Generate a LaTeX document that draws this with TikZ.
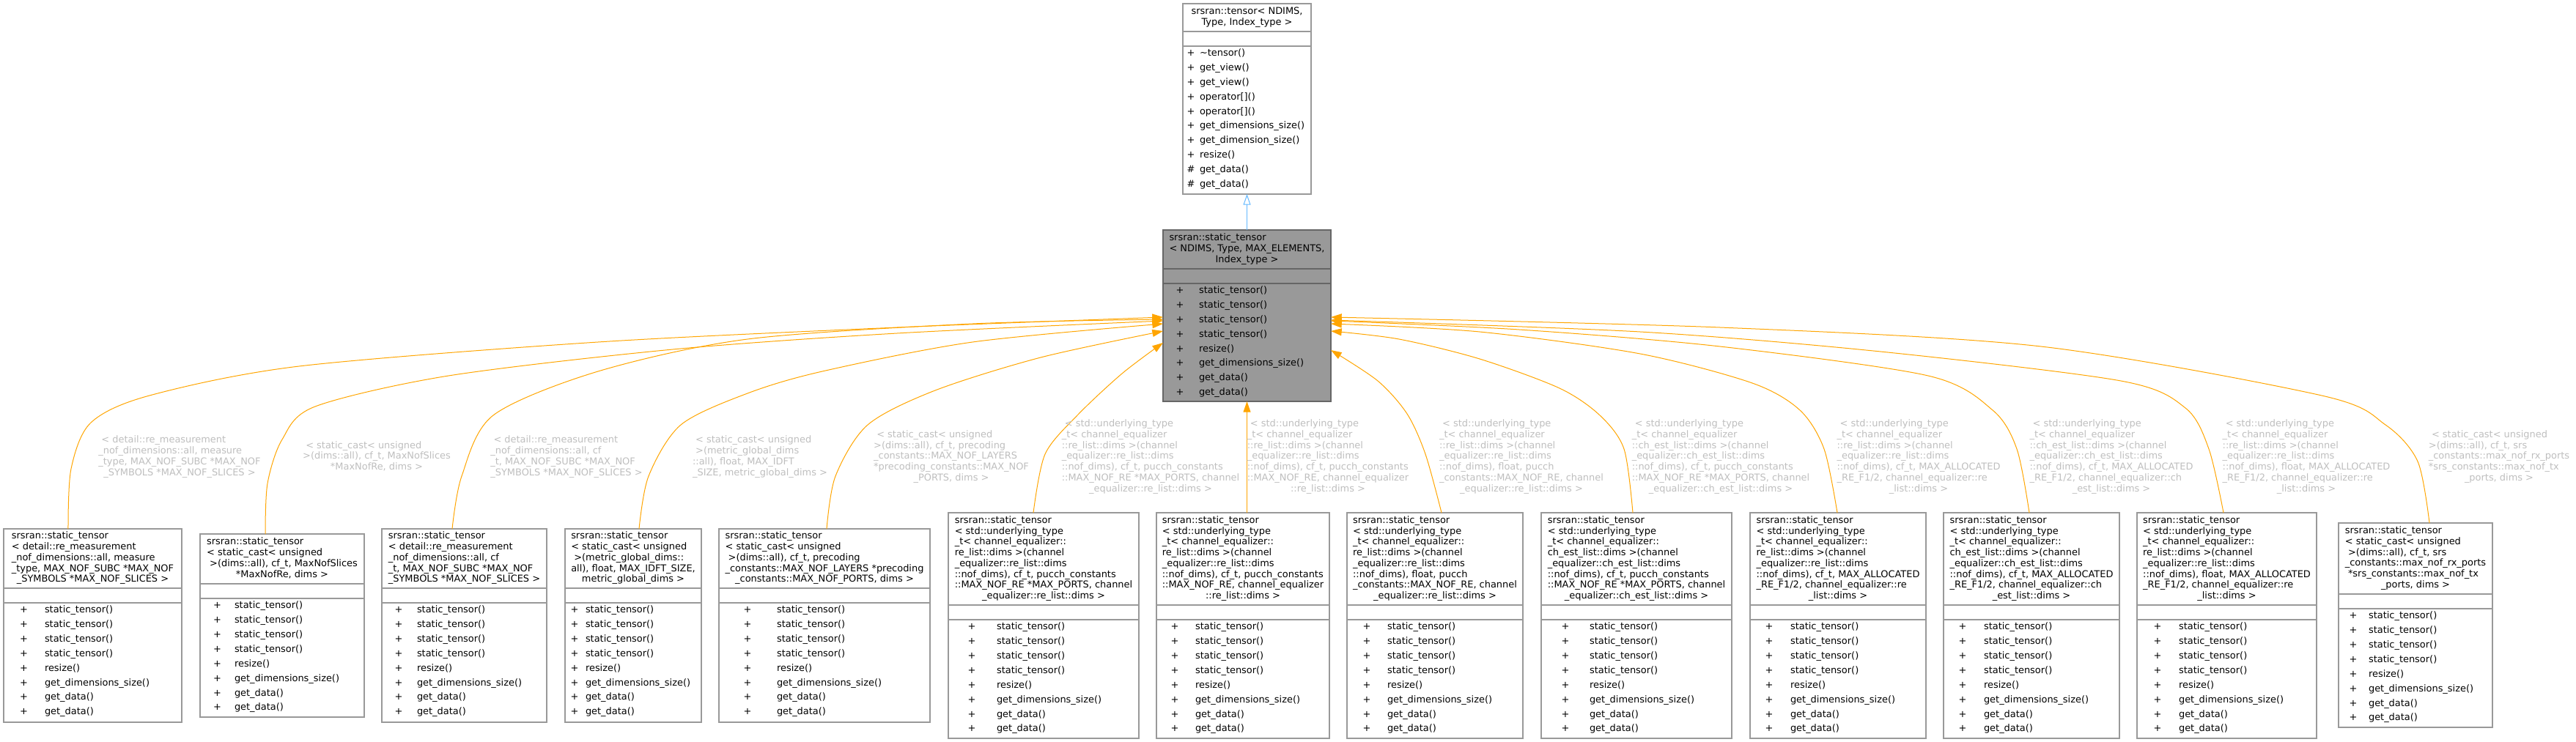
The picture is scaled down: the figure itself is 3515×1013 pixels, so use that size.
\documentclass[tikz,border=0pt]{standalone}
\usepackage{fontspec}
\setmainfont{DejaVu Sans}
\usetikzlibrary{arrows.meta,calc}
\definecolor{boxgray}{HTML}{999999}
\definecolor{midfill}{HTML}{999999}
\definecolor{midedge}{HTML}{666666}
\definecolor{lblgray}{HTML}{BEBEBE}
\definecolor{orangeedge}{HTML}{FFA500}
\definecolor{blueedge}{HTML}{63B8FF}
\newcommand\LL[1]{\multicolumn{1}{@{}c@{}}{#1}}
\newcommand\TB[1]{\begin{tabular}{@{}l@{}}#1\end{tabular}}
\newcommand\TC[1]{\begin{tabular}{@{}c@{}}#1\end{tabular}}
\newcommand\MemP{{\renewcommand\arraystretch{1.356}\begin{tabular}{@{}c@{}}+\\+\\+\\+\\+\\+\\+\\+\end{tabular}}}
\newcommand\MemN{{\renewcommand\arraystretch{1.356}\begin{tabular}{@{}l@{}}static\_tensor()\\static\_tensor()\\static\_tensor()\\static\_tensor()\\resize()\\get\_dimensions\_size()\\get\_data()\\get\_data()\end{tabular}}}
\newcommand\cbox[9]{%
  \node[cls, minimum width={(#4-#2)*0.75pt}, minimum height={(#7-#3)*0.75pt}] (#1) at ({(#2+#4)/2},{(#3+#7)/2}) {};
  \draw[sepl] (#2,#5) -- (#4,#5);
  \draw[sepl] (#2,#6) -- (#4,#6);
  \node[txt] (#1-p) at (#8,{#6+79}) {\MemP};
  \node[txt,anchor=west] (#1-n) at (#9,{#6+79}) {\MemN};
}
\tikzset{
  cls/.style={draw=boxgray, fill=white, line width=1pt, rectangle, inner sep=0pt, outer sep=0pt},
  sepl/.style={draw=boxgray, line width=1pt},
  txt/.style={inner sep=0pt, outer sep=0pt, font=\fontsize{9.7pt}{11.06pt}\selectfont},
  lbl/.style={txt, text=lblgray},
  inh/.style={draw=orangeedge, line width=0.75pt, -{Triangle[length=11pt,width=7.5pt]}},
  gen/.style={draw=blueedge, line width=0.75pt, -{Triangle[open,length=11pt,width=7.5pt]}},
}
\begin{document}
\begin{tikzpicture}[x=0.75pt,y=-0.75pt]
\useasboundingbox (0,0) rectangle (3515,1013);

% ---- top class
\node[cls, minimum width={175*0.75pt}, minimum height={260*0.75pt}] (top) at (1701.5,135) {};
\draw[sepl] (1614,43) -- (1789,43);
\draw[sepl] (1614,63) -- (1789,63);
\node[txt] (top-t) at (1701.5,24) {\TC{srsran::tensor< NDIMS,\\Type, Index\_type >}};
\node[txt] (top-p) at (1625,162) {{\renewcommand\arraystretch{1.356}\begin{tabular}{@{}c@{}}+\\+\\+\\+\\+\\+\\+\\+\\\#\\\#\end{tabular}}};
\node[txt,anchor=west] (top-n) at (1637,162) {{\renewcommand\arraystretch{1.356}\begin{tabular}{@{}l@{}}\textasciitilde tensor()\\get\_view()\\get\_view()\\operator[]()\\operator[]()\\get\_dimensions\_size()\\get\_dimension\_size()\\resize()\\get\_data()\\get\_data()\end{tabular}}};

% ---- middle class
\node[cls, draw=midedge, fill=midfill, minimum width={229*0.75pt}, minimum height={234*0.75pt}] (mid) at (1701.5,431) {};
\draw[sepl, draw=midedge] (1587,367) -- (1816,367);
\draw[sepl, draw=midedge] (1587,387) -- (1816,387);
\node[txt] (mid-t) at (1701.5,340.5) {\TB{srsran::static\_tensor\\< NDIMS, Type, MAX\_ELEMENTS,\\\LL{Index\_type >}}};
\node[txt] (mid-p) at (1610,466) {\MemP};
\node[txt,anchor=west] (mid-n) at (1636,466) {\MemN};

\draw[gen] (mid.north) -- (top.south);

% ---- derived classes
\cbox{n1}{5}{722}{248}{803}{823}{986}{32.5}{61}
\node[txt] (n1-t) at (126.5,762.5) {\TB{srsran::static\_tensor\\< detail::re\_measurement\\\_nof\_dimensions::all, measure\\\_type, MAX\_NOF\_SUBC *MAX\_NOF\\\LL{\_SYMBOLS *MAX\_NOF\_SLICES >}}};

\cbox{n2}{273}{729}{497}{797}{817}{979}{296.6}{320}
\node[txt] (n2-t) at (385,763) {\TB{srsran::static\_tensor\\< static\_cast< unsigned\\\ >(dims::all), cf\_t, MaxNofSlices\\\LL{*MaxNofRe, dims >}}};

\cbox{n3}{521}{722}{746}{803}{823}{986}{544}{569}
\node[txt] (n3-t) at (633.5,762.5) {\TB{srsran::static\_tensor\\< detail::re\_measurement\\\_nof\_dimensions::all, cf\\\_t, MAX\_NOF\_SUBC *MAX\_NOF\\\LL{\_SYMBOLS *MAX\_NOF\_SLICES >}}};

\cbox{n4}{771}{722}{957}{803}{823}{986}{784}{799}
\node[txt] (n4-t) at (864,762.5) {\TB{srsran::static\_tensor\\< static\_cast< unsigned\\\ >(metric\_global\_dims::\\all), float, MAX\_IDFT\_SIZE,\\\LL{metric\_global\_dims >}}};

\cbox{n5}{981}{722}{1269}{803}{823}{986}{1020}{1060}
\node[txt] (n5-t) at (1125,762.5) {\TB{srsran::static\_tensor\\< static\_cast< unsigned\\\ >(dims::all), cf\_t, precoding\\\_constants::MAX\_NOF\_LAYERS *precoding\\\LL{\_constants::MAX\_NOF\_PORTS, dims >}}};

\cbox{n6}{1294}{700}{1554}{826}{846}{1008}{1326}{1360}
\node[txt] (n6-t) at (1424,763) {\TB{srsran::static\_tensor\\< std::underlying\_type\\\_t< channel\_equalizer::\\re\_list::dims >(channel\\\_equalizer::re\_list::dims\\::nof\_dims), cf\_t, pucch\_constants\\::MAX\_NOF\_RE *MAX\_PORTS, channel\\\LL{\_equalizer::re\_list::dims >}}};

\cbox{n7}{1578}{700}{1814}{826}{846}{1008}{1603}{1631}
\node[txt] (n7-t) at (1696,763) {\TB{srsran::static\_tensor\\< std::underlying\_type\\\_t< channel\_equalizer::\\re\_list::dims >(channel\\\_equalizer::re\_list::dims\\::nof\_dims), cf\_t, pucch\_constants\\::MAX\_NOF\_RE, channel\_equalizer\\\LL{::re\_list::dims >}}};

\cbox{n8}{1838}{700}{2078}{826}{846}{1008}{1865}{1893}
\node[txt] (n8-t) at (1958,763) {\TB{srsran::static\_tensor\\< std::underlying\_type\\\_t< channel\_equalizer::\\re\_list::dims >(channel\\\_equalizer::re\_list::dims\\::nof\_dims), float, pucch\\\_constants::MAX\_NOF\_RE, channel\\\LL{\_equalizer::re\_list::dims >}}};

\cbox{n9}{2103}{700}{2363}{826}{846}{1008}{2136}{2169}
\node[txt] (n9-t) at (2233,763) {\TB{srsran::static\_tensor\\< std::underlying\_type\\\_t< channel\_equalizer::\\ch\_est\_list::dims >(channel\\\_equalizer::ch\_est\_list::dims\\::nof\_dims), cf\_t, pucch\_constants\\::MAX\_NOF\_RE *MAX\_PORTS, channel\\\LL{\_equalizer::ch\_est\_list::dims >}}};

\cbox{n10}{2388}{700}{2628}{826}{846}{1008}{2414}{2443}
\node[txt] (n10-t) at (2508,763) {\TB{srsran::static\_tensor\\< std::underlying\_type\\\_t< channel\_equalizer::\\re\_list::dims >(channel\\\_equalizer::re\_list::dims\\::nof\_dims), cf\_t, MAX\_ALLOCATED\\\_RE\_F1/2, channel\_equalizer::re\\\LL{\_list::dims >}}};

\cbox{n11}{2652}{700}{2892}{826}{846}{1008}{2678}{2707}
\node[txt] (n11-t) at (2772,763) {\TB{srsran::static\_tensor\\< std::underlying\_type\\\_t< channel\_equalizer::\\ch\_est\_list::dims >(channel\\\_equalizer::ch\_est\_list::dims\\::nof\_dims), cf\_t, MAX\_ALLOCATED\\\_RE\_F1/2, channel\_equalizer::ch\\\LL{\_est\_list::dims >}}};

\cbox{n12}{2916}{700}{3161}{826}{846}{1008}{2944}{2973}
\node[txt] (n12-t) at (3038.5,763) {\TB{srsran::static\_tensor\\< std::underlying\_type\\\_t< channel\_equalizer::\\re\_list::dims >(channel\\\_equalizer::re\_list::dims\\::nof\_dims), float, MAX\_ALLOCATED\\\_RE\_F1/2, channel\_equalizer::re\\\LL{\_list::dims >}}};

\cbox{n13}{3191}{714}{3401}{811}{831}{993}{3211}{3232}
\node[txt] (n13-t) at (3296,762.5) {\TB{srsran::static\_tensor\\< static\_cast< unsigned\\\ >(dims::all), cf\_t, srs\\\_constants::max\_nof\_rx\_ports\\\ *srs\_constants::max\_nof\_tx\\\LL{\_ports, dims >}}};

% ---- edge end points
\coordinate (e1s) at ($(n1.north west)+(88,0)$);
\coordinate (e1e) at ($(mid.north west)+(0,119)$);
\coordinate (e2s) at ($(n2.north west)+(89,0)$);
\coordinate (e2e) at ($(mid.north west)+(0,124)$);
\coordinate (e3s) at ($(n3.north west)+(96,0)$);
\coordinate (e3e) at ($(mid.north west)+(0,122)$);
\coordinate (e4s) at ($(n4.north west)+(101,0)$);
\coordinate (e4e) at ($(mid.north west)+(0,128)$);
\coordinate (e5s) at ($(n5.north west)+(147,0)$);
\coordinate (e5e) at ($(mid.north west)+(0,138)$);
\coordinate (e6s) at ($(n6.north west)+(116,0)$);
\coordinate (e6e) at ($(mid.north west)+(0,154)$);
\coordinate (e8s) at ($(n8.north west)+(129,0)$);
\coordinate (e8e) at ($(mid.north east)+(0,164)$);
\coordinate (e9s) at ($(n9.north west)+(125,0)$);
\coordinate (e9e) at ($(mid.north east)+(0,138)$);
\coordinate (e10s) at ($(n10.north west)+(119,0)$);
\coordinate (e10e) at ($(mid.north east)+(0,128)$);
\coordinate (e11s) at ($(n11.north west)+(117,0)$);
\coordinate (e11e) at ($(mid.north east)+(0,124)$);
\coordinate (e12s) at ($(n12.north west)+(118,0)$);
\coordinate (e12e) at ($(mid.north east)+(0,123)$);
\coordinate (e13s) at ($(n13.north west)+(124,0)$);
\coordinate (e13e) at ($(mid.north east)+(0,119)$);

% ---- edges
\draw[inh] plot[smooth] coordinates {(e1s) (97,640) (124,577) (204,540) (408,500) (816,467) (1224,447) (e1e)};
\draw[inh] plot[smooth] coordinates {(e2s) (365,660) (385,600) (430,555) (612,513) (918,477) (1224,455) (e2e)};
\draw[inh] plot[smooth] coordinates {(e3s) (630,650) (673,567) (816,507) (1020,463) (1327,442) (e3e)};
\draw[inh] plot[smooth] coordinates {(e4s) (885,650) (929,580) (1020,537) (1122,507) (1327,467) (e4e)};
\draw[inh] plot[smooth] coordinates {(e5s) (1140,650) (1184,580) (1276,533) (1420,488) (e5e)};
\draw[inh] plot[smooth] coordinates {(e6s) (1426,620) (1470,567) (1531,510) (e6e)};
\draw[inh] (n7.north -| mid.south) -- (mid.south);
\draw[inh] plot[smooth] coordinates {(e8s) (1945,620) (1920,565) (1880,520) (e8e)};
\draw[inh] plot[smooth] coordinates {(e9s) (2216,613) (2183,567) (2128,530) (2019,490) (1909,463) (e9e)};
\draw[inh] plot[smooth] coordinates {(e10s) (2489,613) (2456,560) (2391,523) (2238,483) (2019,453) (e10e)};
\draw[inh] plot[smooth] coordinates {(e11s) (2752,613) (2719,560) (2631,513) (2347,473) (2073,450) (e11e)};
\draw[inh] plot[smooth] coordinates {(e12s) (3014,613) (2982,557) (2894,520) (2566,480) (2238,453) (e12e)};
\draw[inh] plot[smooth] coordinates {(e13s) (3299,630) (3255,580) (3168,540) (2785,473) (2347,447) (e13e)};

% ---- edge labels
\node[lbl] (l1) at (245,624) {\TB{\ < detail::re\_measurement\\\_nof\_dimensions::all, measure\\\_type, MAX\_NOF\_SUBC *MAX\_NOF\\\LL{\_SYMBOLS *MAX\_NOF\_SLICES >}}};
\node[lbl] (l2) at (514,624) {\TB{\ < static\_cast< unsigned\\>(dims::all), cf\_t, MaxNofSlices\\\LL{*MaxNofRe, dims >}}};
\node[lbl] (l3) at (773,624) {\TB{\ < detail::re\_measurement\\\_nof\_dimensions::all, cf\\\_t, MAX\_NOF\_SUBC *MAX\_NOF\\\LL{\_SYMBOLS *MAX\_NOF\_SLICES >}}};
\node[lbl] (l4) at (1037,624) {\TB{\ < static\_cast< unsigned\\\ >(metric\_global\_dims\\::all), float, MAX\_IDFT\\\LL{\_SIZE, metric\_global\_dims >}}};
\node[lbl] (l5) at (1298,624) {\TB{\ < static\_cast< unsigned\\>(dims::all), cf\_t, precoding\\\_constants::MAX\_NOF\_LAYERS\\{}*precoding\_constants::MAX\_NOF\\\LL{\_PORTS, dims >}}};
\node[lbl] (l6) at (1570,624) {\TB{\ < std::underlying\_type\\\_t< channel\_equalizer\\::re\_list::dims >(channel\\\_equalizer::re\_list::dims\\::nof\_dims), cf\_t, pucch\_constants\\::MAX\_NOF\_RE *MAX\_PORTS, channel\\\LL{\_equalizer::re\_list::dims >}}};
\node[lbl] (l7) at (1812,624) {\TB{\ < std::underlying\_type\\\_t< channel\_equalizer\\::re\_list::dims >(channel\\\_equalizer::re\_list::dims\\::nof\_dims), cf\_t, pucch\_constants\\::MAX\_NOF\_RE, channel\_equalizer\\\LL{::re\_list::dims >}}};
\node[lbl] (l8) at (2076,624) {\TB{\ < std::underlying\_type\\\_t< channel\_equalizer\\::re\_list::dims >(channel\\\_equalizer::re\_list::dims\\::nof\_dims), float, pucch\\\_constants::MAX\_NOF\_RE, channel\\\LL{\_equalizer::re\_list::dims >}}};
\node[lbl] (l9) at (2348,624) {\TB{\ < std::underlying\_type\\\_t< channel\_equalizer\\::ch\_est\_list::dims >(channel\\\_equalizer::ch\_est\_list::dims\\::nof\_dims), cf\_t, pucch\_constants\\::MAX\_NOF\_RE *MAX\_PORTS, channel\\\LL{\_equalizer::ch\_est\_list::dims >}}};
\node[lbl] (l10) at (2618,624) {\TB{\ < std::underlying\_type\\\_t< channel\_equalizer\\::re\_list::dims >(channel\\\_equalizer::re\_list::dims\\::nof\_dims), cf\_t, MAX\_ALLOCATED\\\_RE\_F1/2, channel\_equalizer::re\\\LL{\_list::dims >}}};
\node[lbl] (l11) at (2881,624) {\TB{\ < std::underlying\_type\\\_t< channel\_equalizer\\::ch\_est\_list::dims >(channel\\\_equalizer::ch\_est\_list::dims\\::nof\_dims), cf\_t, MAX\_ALLOCATED\\\_RE\_F1/2, channel\_equalizer::ch\\\LL{\_est\_list::dims >}}};
\node[lbl] (l12) at (3147,624) {\TB{\ < std::underlying\_type\\\_t< channel\_equalizer\\::re\_list::dims >(channel\\\_equalizer::re\_list::dims\\::nof\_dims), float, MAX\_ALLOCATED\\\_RE\_F1/2, channel\_equalizer::re\\\LL{\_list::dims >}}};
\node[lbl] (l13) at (3410,624) {\TB{\ < static\_cast< unsigned\\>(dims::all), cf\_t, srs\\\_constants::max\_nof\_rx\_ports\\{}*srs\_constants::max\_nof\_tx\\\LL{\_ports, dims >}}};
\end{tikzpicture}
\end{document}
